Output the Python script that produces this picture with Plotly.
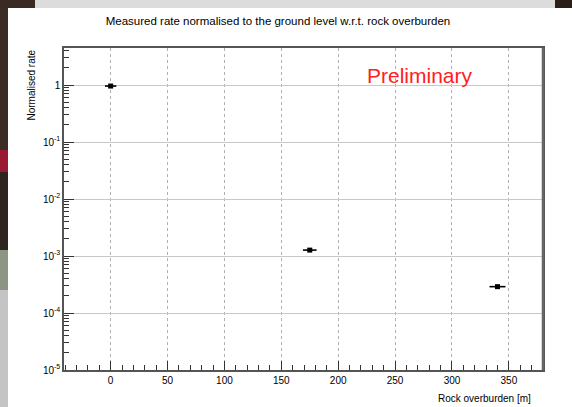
import plotly.graph_objects as go

# Data
overburden_m = [0, 175, 340]
overburden_err = [5, 6, 7]
normalised_rate = [0.96, 1.27e-3, 2.9e-4]

x_ticks = [0, 50, 100, 150, 200, 250, 300, 350]
y_tick_vals = [1, 1e-1, 1e-2, 1e-3, 1e-4, 1e-5]
y_tick_text = ["1", "10<sup>-1</sup>", "10<sup>-2</sup>", "10<sup>-3</sup>", "10<sup>-4</sup>", "10<sup>-5</sup>"]

W, H = 572, 407
L, R, T, B = 64, 29, 48, 37
PW, PH = W - L - R, H - T - B

def px(xp):
    return (xp - L) / PW

def py(yp):
    return (H - B - yp) / PH

font = "Liberation Sans, Arial, sans-serif"

fig = go.Figure()
fig.add_trace(go.Scatter(
    x=overburden_m, y=normalised_rate, mode="markers",
    marker=dict(color="black", size=5, symbol="square"),
    error_x=dict(type="data", array=overburden_err, color="black", thickness=1.6, width=0),
    showlegend=False,
))

minor_y = [m * 10 ** e for e in range(-5, 1) for m in range(2, 10)]
minor_x = [v for v in range(-40, 381, 10) if v % 50 != 0]

shapes = [
    # photo-like surroundings
    dict(type="rect", xref="paper", yref="paper", x0=px(0), x1=px(W), y0=py(0), y1=py(8),
         fillcolor="#dcdcdc", line_width=0, layer="below"),
    dict(type="rect", xref="paper", yref="paper", x0=px(0), x1=px(35), y0=py(0), y1=py(8),
         fillcolor="#3a2a24", line_width=0, layer="below"),
    dict(type="rect", xref="paper", yref="paper", x0=px(555), x1=px(W), y0=py(0), y1=py(8),
         fillcolor="#2a1e18", line_width=0, layer="below"),
    dict(type="rect", xref="paper", yref="paper", x0=px(0), x1=px(8), y0=py(8), y1=py(150),
         fillcolor="#3b2c26", line_width=0, layer="below"),
    dict(type="rect", xref="paper", yref="paper", x0=px(0), x1=px(8), y0=py(150), y1=py(172),
         fillcolor="#9a1a34", line_width=0, layer="below"),
    dict(type="rect", xref="paper", yref="paper", x0=px(0), x1=px(8), y0=py(172), y1=py(250),
         fillcolor="#2e2420", line_width=0, layer="below"),
    dict(type="rect", xref="paper", yref="paper", x0=px(0), x1=px(8), y0=py(250), y1=py(290),
         fillcolor="#8c9484", line_width=0, layer="below"),
    dict(type="rect", xref="paper", yref="paper", x0=px(0), x1=px(8), y0=py(290), y1=py(H),
         fillcolor="#c4c4c4", line_width=0, layer="below"),
    # heavier right/bottom frame edge
    dict(type="line", xref="paper", yref="paper", x0=1, x1=1, y0=0, y1=1,
         line=dict(color="#666", width=2.5), layer="above"),
]

fig.update_layout(
    width=W, height=H,
    margin=dict(l=L, r=R, t=T, b=B),
    paper_bgcolor="white", plot_bgcolor="white",
    font=dict(family=font, color="black", size=10),
    shapes=shapes,
    title=dict(text="Measured rate normalised to the ground level w.r.t. rock overburden",
               x=278 / W, xanchor="center", y=1 - 21 / H, yanchor="middle",
               font=dict(size=11.5, family=font, color="black")),
    annotations=[
        dict(text="Preliminary", xref="paper", yref="paper", x=px(420), y=py(75),
             xanchor="center", yanchor="middle", showarrow=False,
             font=dict(size=21, color="#ff2020", family=font)),
        dict(text="Rock overburden [m]", xref="paper", yref="paper", x=px(533), y=py(399),
             xanchor="right", yanchor="middle", showarrow=False,
             font=dict(size=10, family=font)),
        dict(text="Normalised rate", xref="paper", yref="paper", x=px(31), y=py(48),
             xanchor="center", yanchor="top", textangle=-90, showarrow=False,
             font=dict(size=10, family=font)),
    ],
)

fig.update_xaxes(
    range=[-41, 380], tickvals=x_ticks, ticks="inside", ticklen=9, tickcolor="#333",
    showline=True, linecolor="#555", linewidth=1.5, mirror=True,
    showgrid=True, gridcolor="#b0b0b0", griddash="3px,3px", gridwidth=1,
    zeroline=False, tickfont=dict(size=10),
    minor=dict(tickvals=minor_x, ticks="inside", ticklen=5, tickcolor="#333", showgrid=False),
)
fig.update_yaxes(
    type="log", range=[-5, 0.65], tickvals=y_tick_vals, ticktext=y_tick_text,
    ticks="inside", ticklen=10, tickcolor="#333",
    showline=True, linecolor="#555", linewidth=1.5, mirror=True,
    showgrid=True, gridcolor="#c8c8c8", gridwidth=1,
    zeroline=False, tickfont=dict(size=10),
    minor=dict(tickvals=minor_y, ticks="inside", ticklen=5, tickcolor="#333", showgrid=False),
)

fig.write_html("out.html", config={"displayModeBar": False},
               post_script="document.body.style.margin='0';document.body.style.overflow='hidden';")
